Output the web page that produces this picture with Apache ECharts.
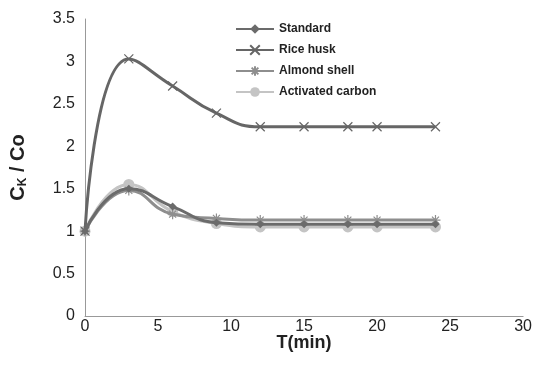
<!DOCTYPE html>
<html><head><meta charset="utf-8">
<script src="https://cdn.jsdelivr.net/npm/echarts@6/dist/echarts.min.js"></script>
<style>html,body{margin:0;padding:0;background:#fff}#c{width:535px;height:371px}</style>
</head><body><div id="c"></div>
<script>
const times = [0, 3, 6, 9, 12, 15, 18, 20, 24];
const standard = [1, 1.5, 1.29, 1.1, 1.08, 1.08, 1.08, 1.08, 1.08];
const riceHusk = [1, 3.03, 2.71, 2.39, 2.23, 2.23, 2.23, 2.23, 2.23];
const almondShell = [1, 1.48, 1.2, 1.15, 1.13, 1.13, 1.13, 1.13, 1.13];
const activatedCarbon = [1, 1.55, 1.23, 1.09, 1.05, 1.05, 1.05, 1.05, 1.05];
const seriesNames = ['Standard', 'Rice husk', 'Almond shell', 'Activated carbon'];
const xTicks = [0, 5, 10, 15, 20, 25, 30];
const yTicks = [0, 0.5, 1, 1.5, 2, 2.5, 3, 3.5];

const pair = arr => times.map((t, i) => [t, arr[i]]);
const xSvg = 'path://M0,0L10,10M10,0L0,10';
const starSvg = 'path://M5,0L5,10M0,5L10,5M1.5,1.5L8.5,8.5M8.5,1.5L1.5,8.5';
const font = 'Liberation Sans, Arial, sans-serif';

const chart = echarts.init(document.getElementById('c'), null, {renderer: 'canvas'});
const mk = (name, data, color, symbol, size, width, z) => ({
  name, type: 'line', smooth: 0.5, data: pair(data), symbol, symbolSize: size, z,
  lineStyle: {color, width}, itemStyle: {color, borderColor: color, borderWidth: symbol.startsWith('path') ? 1.2 : 0},
  emphasis: {disabled: true}
});
chart.setOption({
  animation: false,
  grid: {left: 85, right: 9, top: 19, bottom: 55},
  legend: {
    orient: 'vertical', left: 230, top: 18, itemGap: 9, itemWidth: 38, itemHeight: 12,
    data: seriesNames,
    textStyle: {fontFamily: font, fontWeight: 'bold', fontSize: 12, color: '#222'}
  },
  xAxis: {
    type: 'value', min: 0, max: 30, interval: 5,
    name: 'T(min)', nameLocation: 'middle', nameGap: 18, nameMoveOverlap: false,
    nameTextStyle: {fontFamily: font, fontWeight: 'bold', fontSize: 18, color: '#222', verticalAlign: 'top'},
    axisLine: {lineStyle: {color: '#999'}}, axisTick: {show: false}, splitLine: {show: false},
    axisLabel: {fontFamily: font, fontSize: 16, color: '#222', margin: 3,
      customValues: xTicks}
  },
  yAxis: {
    type: 'value', min: 0, max: 3.5, interval: 0.5,
    name: '{b|C}{s|K}{b| / Co}', nameLocation: 'middle', nameGap: 56, nameRotate: 90, nameMoveOverlap: false,
    nameTextStyle: {rich: {
      b: {fontFamily: font, fontWeight: 'bold', fontSize: 20, color: '#222'},
      s: {fontFamily: font, fontWeight: 'bold', fontSize: 12, color: '#222', verticalAlign: 'bottom', padding: [10, 0, 0, 0]}
    }},
    axisLine: {show: true, lineStyle: {color: '#999'}}, axisTick: {show: false}, splitLine: {show: false},
    axisLabel: {fontFamily: font, fontSize: 16, color: '#222', margin: 10,
      customValues: yTicks, formatter: v => String(v)}
  },
  series: [
    mk(seriesNames[0], standard, '#6b6b6b', 'diamond', 8, 3, 4),
    mk(seriesNames[1], riceHusk, '#666666', xSvg, 9, 3, 3),
    mk(seriesNames[2], almondShell, '#8e8e8e', starSvg, 10, 3, 2),
    mk(seriesNames[3], activatedCarbon, '#c4c4c4', 'circle', 11, 3, 1)
  ]
});
</script></body></html>
